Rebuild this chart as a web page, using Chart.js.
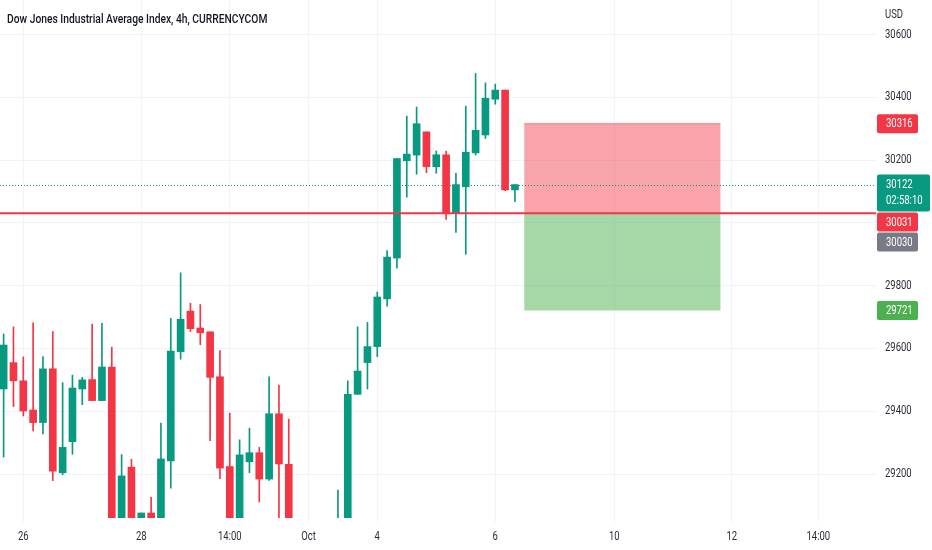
<!DOCTYPE html>
<html>
<head>
<meta charset="utf-8">
<script src="https://cdn.jsdelivr.net/npm/chart.js@4"></script>
<style>
  html, body { margin: 0; padding: 0; background: #fff; }
  #wrap { width: 932px; height: 550px; position: relative; }
</style>
</head>
<body>
<div id="wrap"><canvas id="chart"></canvas></div>
<script>
// 4h candles, index 0 = first visible bar (Sep 25 evening)
const opens  = [29471, 29555, 29497, 29404, 29364, 29535, 29204, 29303, 29471, 29501, 29434, 29541, 29020, 29222, 29040, 29076, 29040, 29242, 29590, 29719, 29665, 29653, 29510, 29224, 29020, 29239, 29268, 29184, 29392, 29231, 29000, 28960, 28930, 28990, 28980, 29030, 29454, 29555, 29606, 29758, 29888, 30198, 30216, 30290, 30179, 30217, 30032, 30115, 30223, 30280, 30394, 30423, 30105];
const highs  = [29646, 29669, 29573, 29682, 29574, 29654, 29491, 29515, 29508, 29678, 29680, 29604, 29262, 29247, 29076, 29126, 29362, 29696, 29841, 29744, 29740, 29653, 29593, 29394, 29309, 29346, 29285, 29510, 29483, 29375, 29040, 29030, 29020, 29035, 29149, 29497, 29669, 29683, 29780, 29912, 30205, 30340, 30369, 30290, 30229, 30229, 30158, 30372, 30476, 30446, 30442, 30423, 30122];
const lows   = [29254, 29415, 29385, 29337, 29328, 29179, 29198, 29263, 29421, 29434, 29434, 28990, 29000, 29010, 29000, 29020, 29020, 29155, 29566, 29654, 29612, 29306, 29185, 28990, 29000, 29204, 29111, 29180, 29040, 28980, 28900, 28910, 28900, 28940, 28960, 29020, 29454, 29471, 29574, 29735, 29856, 30082, 30155, 30160, 30158, 30011, 29970, 29900, 30216, 30269, 30378, 30103, 30068];
const closes = [29611, 29497, 29401, 29364, 29535, 29209, 29285, 29474, 29500, 29434, 29541, 29010, 29194, 29030, 29076, 29040, 29248, 29592, 29693, 29663, 29650, 29508, 29219, 29010, 29261, 29268, 29184, 29392, 29232, 29000, 28950, 28940, 28990, 28970, 29040, 29454, 29528, 29606, 29764, 29891, 30205, 30219, 30316, 30179, 30217, 30032, 30122, 30225, 30295, 30397, 30423, 30105, 30122];

// time axis labels (bar index -> text)
const tickIdx  = [2, 14, 23, 31, 38, 50, 62.1, 74.05, 82.85];
const tickText = ['26', '28', '14:00', 'Oct', '4', '6', '10', '12', '14:00'];
const priceTicks = [29200, 29400, 29600, 29800, 30000, 30200, 30400, 30600];

// short position drawing
const posFrom = 52.95, posTo = 72.9;
const stopPrice = 30316, entryPrice = 30031, targetPrice = 29721;
const lastPrice = 30122, avgPrice = 30030;

const UP = '#089981', DOWN = '#f23645';
const FONT = 'Roboto, sans-serif';
const idx = opens.map((_, i) => i);
const colors = idx.map(i => closes[i] >= opens[i] ? UP : DOWN);

const canvas = document.getElementById('chart');
// the screenshot font is a narrow one: squeeze every label a bit
const ctx2d = canvas.getContext('2d');
const fillText0 = ctx2d.fillText;
ctx2d.fillText = function (t, x, y, mw) {
  const w = this.measureText(t).width * 0.79;
  return fillText0.call(this, t, x, y, mw === undefined ? w : Math.min(mw, w));
};

const overlay = {
  id: 'overlay',
  beforeDatasetsDraw(chart) {
    const { ctx, chartArea: a, scales: { x, y } } = chart;
    const x0 = x.getPixelForValue(posFrom), x1 = x.getPixelForValue(posTo);
    const yS = y.getPixelForValue(stopPrice), yE = y.getPixelForValue(entryPrice), yT = y.getPixelForValue(targetPrice);
    ctx.save();
    ctx.fillStyle = 'rgba(242,54,69,0.45)';
    ctx.fillRect(x0, yS, x1 - x0, yE - yS);
    ctx.fillStyle = 'rgba(76,175,80,0.5)';
    ctx.fillRect(x0, yE, x1 - x0, yT - yE);
    ctx.fillStyle = 'rgba(242,54,69,0.55)';
    ctx.fillRect(x0, yS - 0.5, x1 - x0, 1);
    // dotted last price line
    const yL = Math.round(y.getPixelForValue(lastPrice)) + 0.5;
    ctx.strokeStyle = UP;
    ctx.lineWidth = 1;
    ctx.setLineDash([1, 2]);
    ctx.beginPath();
    ctx.moveTo(a.left, yL);
    ctx.lineTo(a.right, yL);
    ctx.stroke();
    ctx.restore();
  },
  afterDatasetsDraw(chart) {
    const { ctx, chartArea: a, scales: { y } } = chart;
    const yE = y.getPixelForValue(entryPrice);
    ctx.save();
    ctx.strokeStyle = DOWN;
    ctx.lineWidth = 2;
    ctx.beginPath();
    ctx.moveTo(a.left, yE);
    ctx.lineTo(a.right, yE);
    ctx.stroke();
    ctx.restore();
  },
  afterDraw(chart) {
    const { ctx, chartArea: a, scales: { y } } = chart;
    ctx.save();
    ctx.textBaseline = 'middle';
    ctx.textAlign = 'left';
    ctx.fillStyle = '#131722';
    ctx.font = '500 13px ' + FONT;
    ctx.fillText('Dow Jones Industrial Average Index, 4h, CURRENCYCOM', 7, 20);
    ctx.font = '12px ' + FONT;
    ctx.fillStyle = '#2a2e39';
    ctx.fillText('USD', 885, 15);

    // price tags on the scale, stacked so they don't overlap
    const tags = [
      { price: stopPrice, text: String(stopPrice), bg: DOWN },
      { price: lastPrice, text: String(lastPrice), sub: '02:58:10', bg: UP },
      { price: entryPrice, text: String(entryPrice), bg: DOWN },
      { price: avgPrice, text: String(avgPrice), bg: '#787b86' },
      { price: targetPrice, text: String(targetPrice), bg: '#4caf50' }
    ];
    let bottom = -Infinity;
    tags.forEach(t => {
      const py = y.getPixelForValue(t.price);
      const h = t.sub ? 37 : 19;
      let top = py - (t.sub ? 10 : 9.5);
      if (top < bottom) top = bottom + 1;
      const w = t.sub ? 53 : 41;
      ctx.fillStyle = t.bg;
      ctx.beginPath();
      ctx.roundRect(a.right + 1, top, w, h, 2);
      ctx.fill();
      ctx.fillStyle = '#fff';
      ctx.fillText(t.text, a.right + 10, top + 10);
      if (t.sub) ctx.fillText(t.sub, a.right + 10, top + 26);
      bottom = top + h;
    });
    ctx.restore();
  }
};

new Chart(canvas, {
  type: 'bar',
  data: {
    datasets: [
      {
        label: 'wick',
        data: idx.map(i => ({ x: i, y: [lows[i], highs[i]] })),
        backgroundColor: colors,
        barThickness: 1,
        grouped: false,
        order: 2
      },
      {
        label: 'body',
        data: idx.map(i => ({ x: i, y: [Math.min(opens[i], closes[i]), Math.max(opens[i], closes[i])] })),
        backgroundColor: colors,
        barThickness: 7,
        minBarLength: 1,
        grouped: false,
        order: 1
      }
    ]
  },
  options: {
    responsive: true,
    maintainAspectRatio: false,
    animation: false,
    layout: { padding: 0 },
    plugins: {
      legend: { display: false },
      tooltip: { enabled: false }
    },
    scales: {
      x: {
        type: 'linear',
        min: -0.369,
        max: 88.72,
        offset: false,
        afterFit: s => { s.height = 32; s.paddingLeft = 0; s.paddingRight = 0; },
        afterBuildTicks: s => { s.ticks = tickIdx.map(v => ({ value: v })); },
        ticks: {
          autoSkip: false,
          maxRotation: 0,
          padding: 8,
          color: '#2a2e39',
          font: { family: FONT, size: 12 },
          callback: (v, i) => tickText[i]
        },
        grid: { color: '#f0f3fa', offset: false, tickLength: 4 },
        border: { display: false }
      },
      y: {
        position: 'right',
        min: 29060,
        max: 30710,
        afterFit: s => { s.width = 56; s.paddingTop = 0; s.paddingBottom = 0; },
        afterBuildTicks: s => { s.ticks = priceTicks.map(v => ({ value: v })); },
        ticks: {
          padding: 9,
          color: '#2a2e39',
          font: { family: FONT, size: 12 },
          callback: v => String(v)
        },
        grid: { color: '#f0f3fa', drawTicks: false },
        border: { display: false }
      }
    }
  },
  plugins: [overlay]
});
</script>
</body>
</html>
